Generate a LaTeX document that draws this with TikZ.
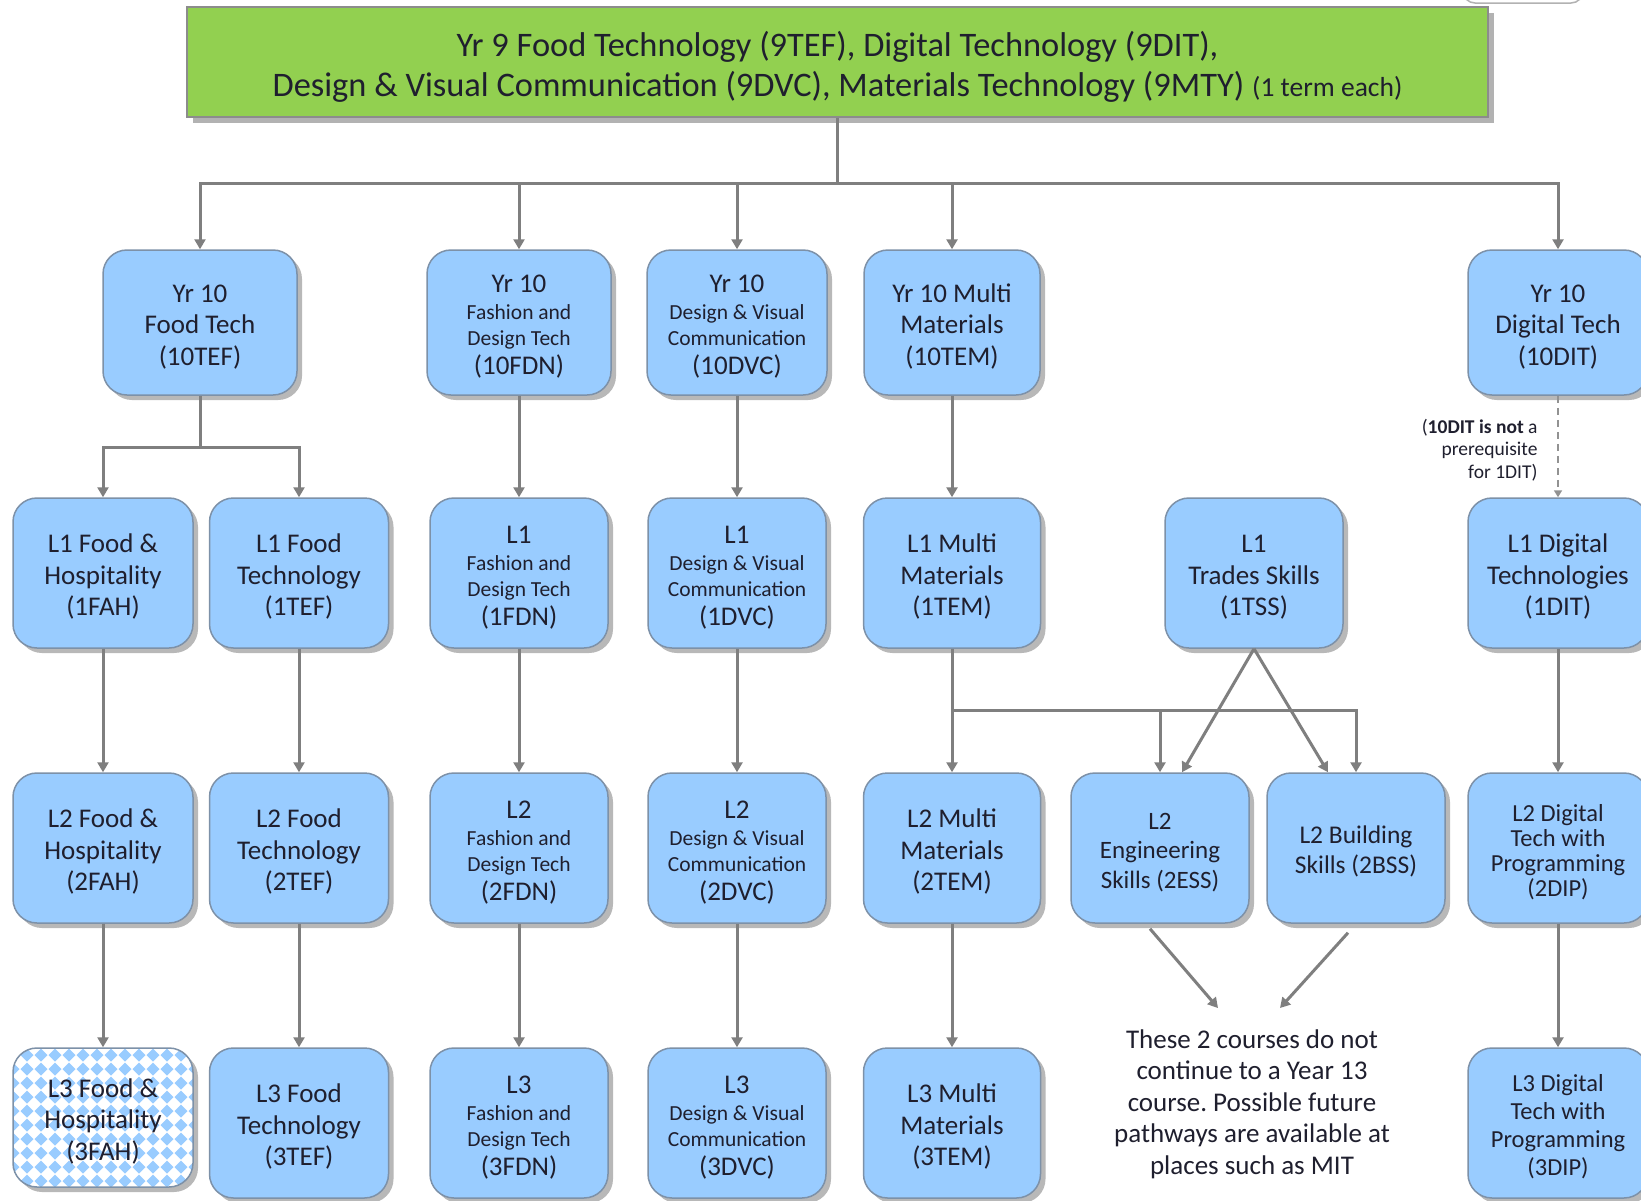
\documentclass[tikz,border=0pt]{standalone}
\usepackage{fontspec}
\setmainfont{Carlito}
\usetikzlibrary{arrows.meta,shadows,calc}
\definecolor{boxblue}{HTML}{99CCFF}
\definecolor{boxline}{HTML}{7D91A8}
\definecolor{greenfill}{HTML}{92D050}
\definecolor{arrgray}{HTML}{7F7F7F}
\definecolor{txt}{HTML}{1F1F2E}
\newcommand{\smtxt}{\fontsize{21.5}{26}\selectfont}
\newcommand{\tst}{\rule{0pt}{26pt}}
\frenchspacing
\tikzset{
  coursebase/.style={draw=boxline, line width=1.5pt, rounded corners=24pt, align=center, text=txt,
    font=\fontsize{27}{31.5}\selectfont, inner sep=2pt, minimum width=178pt, minimum height=150pt},
  course/.style={coursebase, fill=boxblue,
    drop shadow={shadow xshift=5pt, shadow yshift=-5pt, fill=black!28, opacity=1}},
  conn/.style={draw=arrgray, line width=3pt},
  arr/.style={conn, -{Triangle[width=11pt,length=10pt]}},
}
\begin{document}
\begin{tikzpicture}[x=1pt,y=-1pt]
\useasboundingbox (0,0) rectangle (1641,1200);
\fill[white] (0,0) rectangle (1641,1200);

% partial element at top right
\draw[draw=black!30, line width=1.5pt, rounded corners=12pt] (1463,-30) rectangle (1583,3);

% top box
\node[draw=black!45, line width=1.5pt, fill=greenfill, minimum width=1301pt, minimum height=110pt,
  drop shadow={shadow xshift=6pt, shadow yshift=-6pt, fill=black!30, opacity=1},
  align=center, text=txt, font=\fontsize{34.4}{40}\selectfont] (top) at (837.5,62)
  {\rule{0pt}{34.5pt}Yr 9 Food Technology (9TEF), Digital Technology (9DIT),\\
   Design \& Visual Communication (9DVC), Materials Technology (9MTY) {\fontsize{27.5}{30}\selectfont(1 term each)}};

% Yr 10 row
\node[course, minimum width=194pt, minimum height=145pt] (y10tef) at (200,322.5) {\tst Yr 10\\Food Tech\\(10TEF)};
\node[course, minimum width=184pt, minimum height=145pt] (y10fdn) at (519,322.5) {\tst Yr 10\\[-4.5pt]\smtxt Fashion and\\[-5.5pt]\smtxt Design Tech\\[-2.5pt](10FDN)};
\node[course, minimum width=180pt, minimum height=145pt] (y10dvc) at (737,322.5) {\tst Yr 10\\[-4.5pt]\smtxt Design \& Visual\\[-5.5pt]\smtxt Communication\\[-2.5pt](10DVC)};
\node[course, minimum width=176pt, minimum height=145pt] (y10tem) at (952,322.5) {\tst Yr 10 Multi\\Materials\\(10TEM)};
\node[course, minimum width=180pt, minimum height=145pt] (y10dit) at (1558,322.5) {\tst Yr 10\\Digital Tech\\(10DIT)};

% L1 row
\node[course, minimum width=180pt] (l1fah) at (103,573) {\tst L1 Food \&\\Hospitality\\(1FAH)};
\node[course, minimum width=179pt] (l1tef) at (299,573) {\tst L1 Food\\Technology\\(1TEF)};
\node[course] (l1fdn) at (519,573) {\tst L1\\[-4.5pt]\smtxt Fashion and\\[-5.5pt]\smtxt Design Tech\\[-2.5pt](1FDN)};
\node[course] (l1dvc) at (737,573) {\tst L1\\[-4.5pt]\smtxt Design \& Visual\\[-5.5pt]\smtxt Communication\\[-2.5pt](1DVC)};
\node[course, minimum width=177pt] (l1tem) at (952,573) {\tst L1 Multi\\Materials\\(1TEM)};
\node[course] (l1tss) at (1254,573) {\tst L1\\Trades Skills\\(1TSS)};
\node[course, minimum width=180pt] (l1dit) at (1558,573) {\tst L1 Digital\\Technologies\\(1DIT)};

% L2 row
\node[course, minimum width=180pt] (l2fah) at (103,848) {\tst L2 Food \&\\Hospitality\\(2FAH)};
\node[course, minimum width=179pt] (l2tef) at (299,848) {\tst L2 Food\\Technology\\(2TEF)};
\node[course] (l2fdn) at (519,848) {\tst L2\\[-4.5pt]\smtxt Fashion and\\[-5.5pt]\smtxt Design Tech\\[-2.5pt](2FDN)};
\node[course] (l2dvc) at (737,848) {\tst L2\\[-4.5pt]\smtxt Design \& Visual\\[-5.5pt]\smtxt Communication\\[-2.5pt](2DVC)};
\node[course, minimum width=177pt] (l2tem) at (952,848) {\tst L2 Multi\\Materials\\(2TEM)};
\node[course, font=\fontsize{25}{29.5}\selectfont] (l2ess) at (1160,848) {\rule{0pt}{25pt}L2\\Engineering\\Skills (2ESS)};
\node[course, font=\fontsize{25.5}{30.5}\selectfont] (l2bss) at (1356,848) {\rule{0pt}{25pt}L2 Building\\Skills (2BSS)};
\node[course, minimum width=180pt, font=\fontsize{24.5}{25}\selectfont] (l2dip) at (1558,848) {\rule{0pt}{25pt}L2 Digital\\Tech with\\Programming\\(2DIP)};

% L3 row
\fill[black!28, rounded corners=24pt] (18,1053) rectangle (198,1192);
\begin{scope}
  \clip[rounded corners=24pt] (13,1048) rectangle (193,1187);
  \fill[white] (13,1048) rectangle (193,1187);
  \foreach \i in {0,...,13} {
    \foreach \j in {-1,...,10} {
      \fill[boxblue] ({13+14*\i},{1048.5+14*\j}) -- ++(6.5,6.5) -- ++(-6.5,6.5) -- ++(-6.5,-6.5) -- cycle;
    }
  }
\end{scope}
\node[coursebase, minimum width=180pt, minimum height=139pt] (l3fah) at (103,1117.5) {\tst L3 Food \&\\Hospitality\\(3FAH)};
\node[course, minimum width=179pt] (l3tef) at (299,1123) {\tst L3 Food\\Technology\\(3TEF)};
\node[course] (l3fdn) at (519,1123) {\tst L3\\[-4.5pt]\smtxt Fashion and\\[-5.5pt]\smtxt Design Tech\\[-2.5pt](3FDN)};
\node[course] (l3dvc) at (737,1123) {\tst L3\\[-4.5pt]\smtxt Design \& Visual\\[-5.5pt]\smtxt Communication\\[-2.5pt](3DVC)};
\node[course, minimum width=177pt] (l3tem) at (952,1123) {\tst L3 Multi\\Materials\\(3TEM)};
\node[course, minimum width=180pt, font=\fontsize{24.5}{28}\selectfont] (l3dip) at (1558,1123) {\rule{0pt}{24pt}L3 Digital\\Tech with\\Programming\\(3DIP)};

% notes
\node[align=center, text=txt, font=\fontsize{27}{31.5}\selectfont] (note) at (1252,1104)
  {These 2 courses do not\\continue to a Year 13\\course. Possible future\\pathways are available at\\places such as MIT};
\node[anchor=east, align=right, text=txt, font=\fontsize{19.5}{22.5}\selectfont] (dnote) at (1541,450)
  {(\textbf{10DIT is not} a\\prerequisite\\for 1DIT)};

% connectors: top bus
\coordinate (bus) at (837.5,183);
\draw[conn] (top.south) -- (bus);
\draw[arr] (bus) -| (y10tef.north);
\draw[arr] (bus) -| (y10dit.north);
\draw[arr] (bus -| y10fdn.north) -- (y10fdn.north);
\draw[arr] (bus -| y10dvc.north) -- (y10dvc.north);
\draw[arr] (bus -| y10tem.north) -- (y10tem.north);

% food branch
\coordinate (fj) at (200,447);
\draw[conn] (y10tef.south) -- (fj);
\draw[arr] (fj) -| (l1fah.north);
\draw[arr] (fj) -| (l1tef.north);

% straight chains
\draw[arr] (y10fdn) -- (l1fdn);
\draw[arr] (y10dvc) -- (l1dvc);
\draw[arr] (y10tem) -- (l1tem);
\draw[draw=arrgray!85, line width=2.2pt, dash pattern=on 7pt off 5pt, -{Triangle[width=8pt,length=7pt]}]
  (y10dit.south) -- (l1dit.north);

\draw[arr] (l1fah) -- (l2fah);
\draw[arr] (l1tef) -- (l2tef);
\draw[arr] (l1fdn) -- (l2fdn);
\draw[arr] (l1dvc) -- (l2dvc);
\draw[arr] (l1dit) -- (l2dip);

\draw[arr] (l2fah) -- (l3fah);
\draw[arr] (l2tef) -- (l3tef);
\draw[arr] (l2fdn) -- (l3fdn);
\draw[arr] (l2dvc) -- (l3dvc);
\draw[arr] (l2tem) -- (l3tem);
\draw[arr] (l2dip) -- (l3dip);

% multi materials branch
\coordinate (mj) at (952,710);
\draw[arr] (l1tem) -- (l2tem);
\draw[arr] (mj) -| (l2bss.north);
\draw[arr] (mj -| l2ess.north) -- (l2ess.north);

% trades
\draw[arr] (l1tss.south) -- ($(l2ess.north)+(22,0)$);
\draw[arr] (l1tss.south) -- ($(l2bss.north)+(-28,0)$);

% to note
\coordinate (n1) at (1218,1008);
\coordinate (n2) at (1280,1008);
\draw[arr] ($(l2ess.south)+(-10,5)$) -- (n1);
\draw[arr] ($(l2bss.south)+(-8,9)$) -- (n2);
\end{tikzpicture}
\end{document}
